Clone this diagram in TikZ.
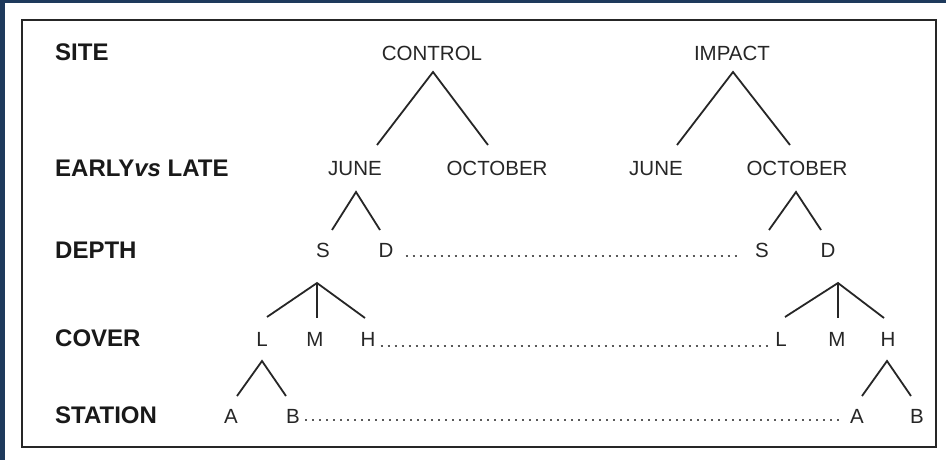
\documentclass[tikz,border=0pt]{standalone}
\usepackage{fontspec}
\setmainfont{Liberation Sans}
\definecolor{navy}{RGB}{30,58,92}
\definecolor{dotgray}{RGB}{90,90,90}
\begin{document}
\begin{tikzpicture}[x=1pt,y=-1pt,
  lvl/.style={anchor=west,inner sep=0pt,font=\fontsize{24}{24}\selectfont\bfseries,text height=17.2pt,text depth=0pt,text=black!90},
  lab/.style={inner sep=0pt,font=\fontsize{20.5}{20.5}\selectfont,text height=14.7pt,text depth=0pt,text=black!85},
  branch/.style={line width=1.8pt,draw=black!85},
  dotline/.style={line width=1.9pt,draw=dotgray,dash pattern=on 1.9pt off 5.1pt}]
\useasboundingbox (0,0) rectangle (946,460);
\fill[white] (0,0) rectangle (946,460);
\fill[navy] (0,0) rectangle (946,3);
\fill[navy] (0,0) rectangle (5,460);
\draw[line width=2pt,draw=black!85] (22,20) rectangle (936,447);

% level labels
\node[lvl] (lsite) at (55,52) {SITE};
\node[lvl] (learly) at (55,168) {EARLY\textit{vs} LATE};
\node[lvl] (ldepth) at (55,250) {DEPTH};
\node[lvl] (lcover) at (55,338) {COVER};
\node[lvl] (lstation) at (55,415) {STATION};

% site
\node[lab] (ctrl) at (432,53) {CONTROL};
\node[lab] (imp) at (732,53) {IMPACT};
% months
\node[lab] (cjun) at (355,168) {JUNE};
\node[lab] (coct) at (497,168) {OCTOBER};
\node[lab] (ijun) at (656,168) {JUNE};
\node[lab] (ioct) at (797,168) {OCTOBER};
% depth
\node[lab] (cs) at (323,250) {S};
\node[lab] (cd) at (386,250) {D};
\node[lab] (is) at (762,250) {S};
\node[lab] (id) at (828,250) {D};
% cover
\node[lab] (cl) at (262,339) {L};
\node[lab] (cm) at (315,339) {M};
\node[lab] (ch) at (368,339) {H};
\node[lab] (il) at (781,339) {L};
\node[lab] (im) at (837,339) {M};
\node[lab] (ih) at (888,339) {H};
% station
\node[lab] (ca) at (231,416) {A};
\node[lab] (cb) at (293,416) {B};
\node[lab] (ia) at (857,416) {A};
\node[lab] (ib) at (917,416) {B};

% branch coordinates
\coordinate (ctrlA) at (433,72);
\coordinate (ctrlL) at (377,145);
\coordinate (ctrlR) at (488,145);
\coordinate (impA) at (733,72);
\coordinate (impL) at (677,145);
\coordinate (impR) at (790,145);
\coordinate (cjunA) at (356,192);
\coordinate (cjunL) at (332,230);
\coordinate (cjunR) at (380,230);
\coordinate (ioctA) at (796,192);
\coordinate (ioctL) at (769,230);
\coordinate (ioctR) at (821,230);
\coordinate (csA) at (317,283);
\coordinate (csL) at (267,317);
\coordinate (csM) at (317,318);
\coordinate (csR) at (365,318);
\coordinate (idA) at (838,283);
\coordinate (idL) at (785,317);
\coordinate (idM) at (838,318);
\coordinate (idR) at (884,318);
\coordinate (clA) at (262,361);
\coordinate (clL) at (237,396);
\coordinate (clR) at (286,396);
\coordinate (ihA) at (887,361);
\coordinate (ihL) at (862,396);
\coordinate (ihR) at (911,396);

\draw[branch] (ctrlL) -- (ctrlA) -- (ctrlR);
\draw[branch] (impL) -- (impA) -- (impR);
\draw[branch] (cjunL) -- (cjunA) -- (cjunR);
\draw[branch] (ioctL) -- (ioctA) -- (ioctR);
\draw[branch] (csL) -- (csA) -- (csR);
\draw[branch] (csA) -- (csM);
\draw[branch] (idL) -- (idA) -- (idR);
\draw[branch] (idA) -- (idM);
\draw[branch] (clL) -- (clA) -- (clR);
\draw[branch] (ihL) -- (ihA) -- (ihR);

% dotted links
\draw[dotline] ([xshift=12pt,yshift=-6pt]cd.east) -- ([xshift=-14pt,yshift=-6pt]is.west);
\draw[dotline] ([xshift=5pt,yshift=-7pt]ch.east) -- ([xshift=-7pt,yshift=-7pt]il.west);
\draw[dotline] ([xshift=5pt,yshift=-4pt]cb.east) -- ([xshift=-7pt,yshift=-4pt]ia.west);
\end{tikzpicture}
\end{document}
